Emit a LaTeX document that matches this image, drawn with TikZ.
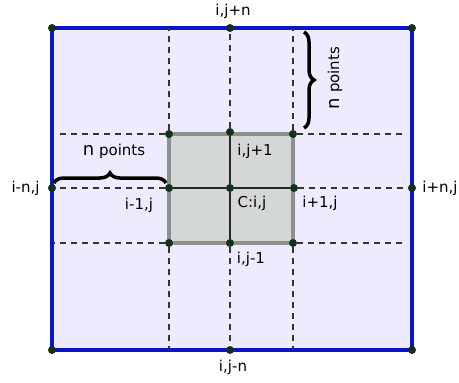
\documentclass[tikz,border=0pt]{standalone}
\usepackage{fontspec}
\setmainfont{DejaVu Sans}
\usetikzlibrary{positioning, decorations.pathreplacing, backgrounds}

\definecolor{domainfill}{HTML}{EEEBFF}
\definecolor{domainblue}{HTML}{0A14C8}
\definecolor{cellfill}{HTML}{D3D8D6}
\definecolor{celledge}{HTML}{8C918C}
\definecolor{dotgreen}{HTML}{12301A}

\begin{document}
\begin{tikzpicture}[
    x=1pt, y=-1pt,
    node distance=5pt,
    gridpt/.style={circle, fill=dotgreen, inner sep=0pt, minimum size=8pt},
    lbl/.style={font=\fontsize{15}{17}\selectfont, inner sep=1pt},
    gridline/.style={dash pattern=on 6pt off 5pt, color=black!80, line width=1.1pt},
    stencil/.style={line width=1.1pt, color=black!85},
    nbrace/.style={decorate, decoration={brace, amplitude=10pt}, line width=3.5pt}
]
\useasboundingbox (0,0) rectangle (459,383);

% Outer points
\node[gridpt] (NW) at (52,28) {};
\node[gridpt] (N) at (230,28) {};
\node[gridpt] (NE) at (412,28) {};
\node[gridpt] (W) at (52,188) {};
\node[gridpt] (E) at (412,188) {};
\node[gridpt] (SW) at (52,350) {};
\node[gridpt] (S) at (230,350) {};
\node[gridpt] (SE) at (412,350) {};

% Stencil points
\node[gridpt] (tl) at (169,134) {};
\node[gridpt] (tm) at (230,132) {};
\node[gridpt] (tr) at (293,134) {};
\node[gridpt] (ml) at (169,188) {};
\node[gridpt] (c) at (230,188) {};
\node[gridpt] (mr) at (294,188) {};
\node[gridpt] (bl) at (169,243) {};
\node[gridpt] (bm) at (230,243) {};
\node[gridpt] (br) at (293,243) {};

% Border ends of the grid lines
\coordinate (n1) at (169,28);
\coordinate (n3) at (293,28);
\coordinate (s1) at (169,350);
\coordinate (s3) at (293,350);
\coordinate (w1) at (57,134);
\coordinate (w3) at (54,243);
\coordinate (e1) at (407,134);
\coordinate (e3) at (407,243);

\begin{scope}[on background layer]
% Domain and stencil cell
\draw[fill=domainfill, draw=domainblue, line width=4.5pt] (NW.center) rectangle (SE.center);
\draw[fill=cellfill, draw=celledge, line width=4.5pt] (tl.center) rectangle (br.center);

% Grid lines
\draw[gridline] (tl) -- (n1);
\draw[gridline] (tm) -- (N);
\draw[gridline] (tr) -- (n3);
\draw[gridline] (bl) -- (s1);
\draw[gridline] (bm) -- (S);
\draw[gridline] (br) -- (s3);
\draw[gridline] (tl) -- (w1);
\draw[gridline] (ml) -- (W);
\draw[gridline] (bl) -- (w3);
\draw[gridline] (tr) -- (e1);
\draw[gridline] (mr) -- (E);
\draw[gridline] (br) -- (e3);

% Stencil arms
\draw[stencil] (ml) -- (c) -- (mr);
\draw[stencil] (tm) -- (c) -- (bm);
\end{scope}

% Braces
\draw[nbrace] (54,183) -- (166,183);
\draw[nbrace] (304,32) -- (304,128);
\node[lbl] (nw-txt) at (114,151) {{\fontsize{18}{19}\selectfont n} points};
\node[lbl, rotate=90] (ne-txt) at (335,78) {{\fontsize{18}{19}\selectfont n} points};

% Labels
\node[lbl, above=4pt of N, xshift=3pt] {i,j+n};
\node[lbl, below=5pt of S, xshift=3pt] {i,j-n};
\node[lbl, left=7pt of W] {i-n,j};
\node[lbl, right=5pt of E] {i+n,j};
\node[lbl] at (139,205) {i-1,j};
\node[lbl] at (320,203) {i+1,j};
\node[lbl] at (252,203) {C:i,j};
\node[lbl] at (255,151) {i,j+1};
\node[lbl] at (251,259) {i,j-1};

\end{tikzpicture}
\end{document}
